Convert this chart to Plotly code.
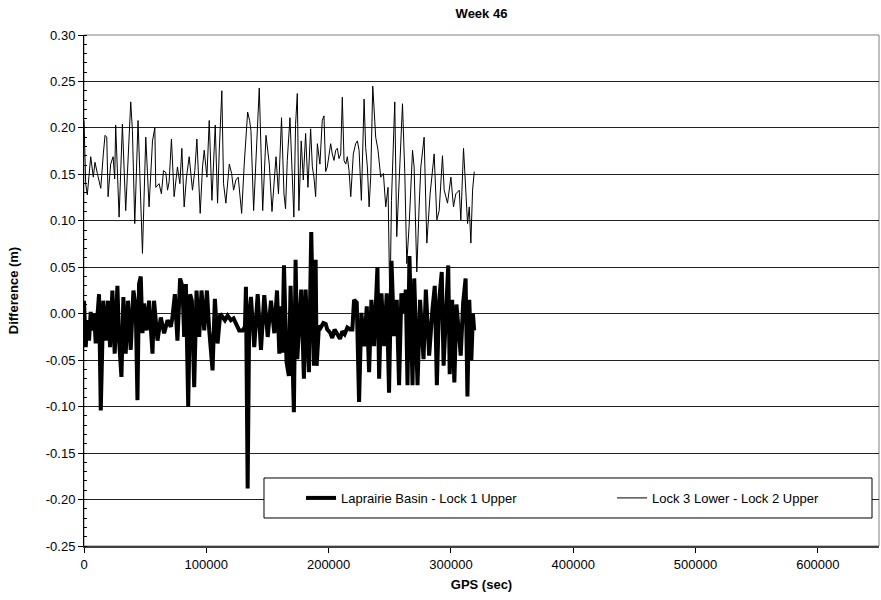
import plotly.graph_objects as go

# ---- data ----
series_names = ["Laprairie Basin - Lock 1 Upper", "Lock 3 Lower - Lock 2 Upper"]

thick_x = [0, 1400, 2700, 4100, 5500, 6800, 8200, 9600, 10900, 12300,
           13700, 15000, 15800, 17700, 19700, 21300, 23200, 25100, 27300, 28700,
           30600, 32200, 34100, 36000, 38200, 40400, 42300, 43700, 45000, 46400,
           47800, 49100, 51300, 53200, 56000, 57300, 60100, 62800, 65500, 68300,
           71000, 72300, 74300, 76400, 78600, 80500, 81900, 83300, 85200, 86800,
           88200, 90100, 92000, 94200, 96100, 98300, 100500, 102400, 105100, 107000,
           109200, 111400, 113300, 115200, 117400, 120100, 122300, 124200, 126900, 129700,
           131600, 132400, 133800, 135100, 136500, 139200, 142000, 144700, 147400, 150200,
           152900, 155600, 157800, 159700, 160700, 162100, 163500, 165600, 167500, 168900,
           170300, 171600, 173000, 174400, 175700, 177600, 179800, 181200, 183900, 185800,
           188000, 189400, 190200, 192100, 193500, 195700, 197600, 198900, 201100, 203000,
           204900, 207100, 209300, 211200, 213100, 215300, 217500, 219400, 220800, 223000,
           224900, 226800, 229000, 231200, 233100, 235000, 237200, 239900, 241300, 243200,
           245400, 247500, 249400, 251400, 253500, 255700, 257600, 259500, 261700, 263100,
           264500, 266100, 268600, 270000, 272700, 274800, 277600, 279500, 282200, 284900,
           286800, 288500, 290400, 292500, 294000, 296000, 297800, 299000, 301000, 302800,
           304500, 306500, 308000, 310000, 312000, 313500, 315000, 316700, 318000, 319000]
thick_y = [0.014, -0.036, -0.007, -0.029, 0.002, -0.018, 0.000, -0.032, -0.004, 0.021,
           -0.104, -0.007, 0.014, -0.029, 0.014, -0.036, 0.025, -0.043, 0.030, -0.029,
           -0.068, 0.018, -0.043, 0.014, -0.039, 0.025, 0.007, -0.093, 0.032, 0.040,
           -0.021, 0.011, -0.018, 0.014, -0.043, 0.014, -0.029, -0.004, -0.021, -0.007,
           -0.014, -0.004, 0.021, -0.029, 0.038, 0.029, -0.025, 0.032, -0.100, 0.021,
           0.014, -0.079, 0.025, -0.025, 0.025, -0.018, 0.025, -0.018, -0.061, 0.016,
           -0.032, 0.000, -0.004, -0.007, -0.002, -0.007, -0.005, -0.011, -0.018, -0.018,
           -0.014, 0.029, -0.188, 0.000, 0.018, -0.036, 0.021, -0.039, 0.020, -0.025,
           0.014, -0.021, 0.025, -0.043, 0.008, -0.042, 0.052, -0.052, -0.067, 0.030,
           -0.049, -0.106, 0.058, -0.049, -0.017, 0.026, -0.070, 0.026, -0.063, 0.088,
           -0.056, 0.058, -0.056, -0.013, -0.015, -0.010, -0.011, -0.017, -0.020, -0.026,
           -0.017, -0.022, -0.027, -0.019, -0.022, -0.015, -0.017, -0.017, 0.015, 0.012,
           -0.095, 0.001, -0.035, 0.008, -0.063, 0.015, -0.035, 0.050, -0.070, 0.022,
           -0.035, 0.022, -0.085, 0.057, -0.024, 0.015, -0.077, 0.022, 0.001, 0.026,
           -0.077, 0.062, -0.077, 0.038, -0.077, 0.015, -0.049, 0.026, -0.045, 0.005,
           0.030, -0.077, 0.015, 0.045, -0.056, 0.000, 0.052, -0.065, 0.015, -0.074,
           0.010, -0.020, -0.045, 0.012, 0.038, -0.089, 0.015, -0.050, 0.000, -0.018]

thin_x = [0, 1400, 2700, 5500, 7600, 9000, 10900, 13700, 15800, 17200,
          18600, 19700, 21800, 23800, 25100, 25900, 28700, 31400, 34100, 36300,
          38200, 39600, 41500, 44200, 45900, 47800, 50500, 53200, 56000, 57900,
          58700, 61400, 63300, 65000, 66900, 68300, 69600, 71500, 73700, 76400,
          78400, 80000, 81900, 83800, 86000, 88700, 90600, 92300, 95000, 96900,
          98300, 100500, 102400, 104600, 107300, 109200, 110600, 112700, 114100, 116000,
          118800, 120700, 122300, 124200, 126100, 128900, 131000, 133800, 135400, 136500,
          138700, 141400, 143300, 146100, 148800, 151500, 153700, 157000, 159000, 161500,
          163500, 164800, 166200, 168400, 170300, 171600, 173000, 174400, 175700, 177600,
          179300, 181200, 183100, 185300, 186700, 188000, 189400, 190800, 192900, 194800,
          196200, 197600, 198900, 200300, 201700, 203000, 204400, 205800, 207100, 208500,
          209900, 211200, 212600, 214000, 215300, 216700, 218100, 220200, 222100, 223500,
          224900, 226800, 229000, 230300, 231700, 233100, 234400, 236100, 238500, 240400,
          242600, 244800, 246700, 248600, 250100, 251400, 254100, 255700, 257600, 260400,
          262300, 263900, 265800, 268600, 269900, 272100, 274000, 275400, 278100, 280300,
          283000, 286300, 288500, 290400, 293100, 294500, 297200, 300000, 302100, 304000,
          306800, 308100, 310300, 312200, 313600, 315000, 316300, 317700, 319100]
thin_y = [0.208, 0.140, 0.128, 0.169, 0.147, 0.163, 0.151, 0.135, 0.172, 0.192,
          0.190, 0.126, 0.161, 0.169, 0.145, 0.203, 0.104, 0.204, 0.111, 0.176,
          0.228, 0.197, 0.097, 0.208, 0.144, 0.065, 0.190, 0.115, 0.186, 0.200,
          0.136, 0.140, 0.129, 0.154, 0.152, 0.133, 0.142, 0.188, 0.126, 0.158,
          0.140, 0.178, 0.115, 0.147, 0.169, 0.133, 0.154, 0.188, 0.108, 0.158,
          0.176, 0.147, 0.208, 0.122, 0.203, 0.119, 0.176, 0.240, 0.140, 0.119,
          0.161, 0.151, 0.133, 0.144, 0.147, 0.108, 0.161, 0.217, 0.208, 0.197,
          0.111, 0.194, 0.243, 0.111, 0.192, 0.161, 0.110, 0.169, 0.129, 0.211,
          0.129, 0.113, 0.165, 0.211, 0.133, 0.104, 0.204, 0.237, 0.111, 0.186,
          0.144, 0.194, 0.136, 0.199, 0.158, 0.147, 0.126, 0.183, 0.161, 0.208,
          0.213, 0.153, 0.158, 0.170, 0.183, 0.172, 0.165, 0.176, 0.178, 0.167,
          0.172, 0.233, 0.165, 0.161, 0.169, 0.154, 0.126, 0.172, 0.183, 0.186,
          0.176, 0.122, 0.231, 0.179, 0.158, 0.115, 0.147, 0.245, 0.190, 0.176,
          0.147, 0.151, 0.115, 0.136, 0.005, 0.122, 0.228, 0.083, 0.136, 0.226,
          0.151, 0.054, 0.094, 0.176, 0.158, 0.045, 0.115, 0.158, 0.190, 0.076,
          0.129, 0.172, 0.101, 0.111, 0.170, 0.133, 0.119, 0.147, 0.115, 0.129,
          0.133, 0.101, 0.178, 0.129, 0.097, 0.115, 0.076, 0.133, 0.153]

x_ticks = [0, 100000, 200000, 300000, 400000, 500000, 600000]
y_ticks = [-0.25, -0.20, -0.15, -0.10, -0.05, 0.00, 0.05, 0.10, 0.15, 0.20, 0.25, 0.30]
y_ticktext = ["%.2f" % v for v in y_ticks]

FONT = "Liberation Sans, Arial, sans-serif"

fig = go.Figure()
fig.add_trace(go.Scatter(x=thick_x, y=thick_y, mode="lines", name=series_names[0],
                         line=dict(color="black", width=4), legendwidth=266))
fig.add_trace(go.Scatter(x=thin_x, y=thin_y, mode="lines", name=series_names[1],
                         line=dict(color="black", width=1)))

# plot area border and legend box
fig.add_shape(type="rect", xref="paper", yref="paper", x0=0, x1=1, y0=0, y1=1,
              line=dict(color="#808080", width=1), layer="below")
fig.add_shape(type="rect", xref="paper", yref="paper", x0=0.2264, x1=0.9912,
              y0=0.0548, y1=0.1331, line=dict(color="black", width=1),
              fillcolor="white", layer="above")

fig.update_layout(
    width=881, height=600,
    margin=dict(l=84, r=2, t=35, b=54, autoexpand=False),
    paper_bgcolor="white", plot_bgcolor="white",
    font=dict(family=FONT, size=13, color="black"),
    title=dict(text="<b>Week 46</b>", x=0.5, xref="paper", y=1 - 13 / 600,
               yref="container", yanchor="middle", xanchor="center",
               font=dict(size=13)),
    showlegend=True,
    legend=dict(orientation="h", x=0.273, xanchor="left", y=0.094, yanchor="middle",
                bgcolor="rgba(0,0,0,0)", borderwidth=0, font=dict(size=13),
                traceorder="normal"),
    xaxis=dict(range=[0, 650000], tickvals=x_ticks, tickformat="d",
               ticks="outside", ticklen=5, tickcolor="black",
               showline=True, linecolor="#404040", linewidth=2,
               showgrid=False, zeroline=False,
               title=dict(text="<b>GPS (sec)</b>", standoff=9, font=dict(size=13))),
    yaxis=dict(range=[-0.25, 0.30], tickvals=y_ticks, ticktext=y_ticktext,
               ticks="outside", ticklen=5, tickcolor="black",
               showline=True, linecolor="black", linewidth=1,
               showgrid=True, gridcolor="#222222", gridwidth=1, zeroline=False,
               minor=dict(dtick=0.01, ticks="inside", ticklen=3, tickcolor="black",
                          showgrid=False),
               title=dict(text="<b>Difference (m)</b>", standoff=24, font=dict(size=13))),
)

fig.write_html("out.html")
